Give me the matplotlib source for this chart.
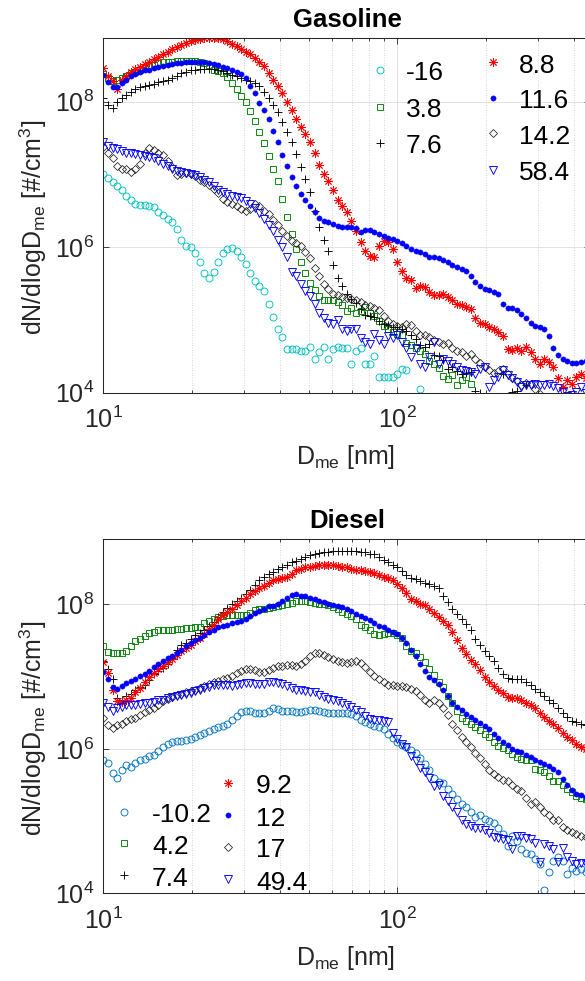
import numpy as np
import matplotlib
matplotlib.use('Agg')
import matplotlib.pyplot as plt
from matplotlib.ticker import FixedLocator, NullFormatter, NullLocator
from matplotlib.lines import Line2D

plt.rcParams['font.family'] = ['Liberation Sans', 'DejaVu Sans']
plt.rcParams['mathtext.fontset'] = 'custom'
plt.rcParams['mathtext.rm'] = 'Liberation Sans'
plt.rcParams['mathtext.it'] = 'Liberation Sans:italic'
plt.rcParams['mathtext.bf'] = 'Liberation Sans:bold'

nan = np.nan

# mobility-equivalent diameter channels [nm]
dme_nm = [10.00, 10.37, 10.75, 11.14, 11.55, 11.97, 12.41, 12.86, 13.34, 13.82,
          14.33, 14.86, 15.40, 15.96, 16.55, 17.15, 17.78, 18.43, 19.11, 19.81,
          20.54, 21.29, 22.07, 22.88, 23.71, 24.58, 25.48, 26.42, 27.38, 28.39,
          29.43, 30.50, 31.62, 32.78, 33.98, 35.22, 36.52, 37.85, 39.24, 40.68,
          42.17, 43.71, 45.32, 46.98, 48.70, 50.48, 52.33, 54.25, 56.23, 58.29,
          60.43, 62.65, 64.94, 67.32, 69.78, 72.34, 74.99, 77.74, 80.59, 83.54,
          86.60, 89.77, 93.06, 96.47, 100.00, 103.66, 107.46, 111.40, 115.48, 119.71,
          124.09, 128.64, 133.35, 138.24, 143.30, 148.55, 153.99, 159.64, 165.48, 171.54,
          177.83, 184.34, 191.09, 198.09, 205.35, 212.87, 220.67, 228.76, 237.14, 245.82,
          254.83, 264.17, 273.84, 283.87, 294.27, 305.05, 316.23, 327.80, 339.82, 352.24,
          365.17, 378.55, 392.42, 406.79, 421.70, 437.14]

# ---- Gasoline: log10(dN/dlogDme [#/cm^3]) ----
gas_labels = ['-16', '3.8', '7.6', '8.8', '11.6', '14.2', '58.4']

gas_m16 = [7.00, 6.95, 6.90, 6.84, 6.78, 6.71, 6.65, 6.60, 6.58, 6.58,
           6.57, 6.55, 6.49, 6.44, 6.39, 6.34, 6.25, 6.10, 6.01, 6.00,
           5.92, 5.80, 5.65, 5.58, 5.66, 5.79, 5.92, 5.97, 5.99, 5.95,
           5.86, 5.77, 5.64, 5.54, 5.47, 5.40, 5.22, 5.04, 4.88, 4.77,
           4.60, 4.60, 4.60, 4.58, 4.58, 4.63, 4.47, 4.56, 4.63, 4.47,
           4.60, 4.63, 4.62, 4.61, 4.40, 4.58, 4.61, 4.40, 4.40, 4.51,
           4.22, 4.21, 4.21, 4.22, 4.26, 4.32, 4.31, nan, nan, 4.05,
           nan, nan, nan, nan, nan, nan, nan, nan, nan, nan,
           nan, nan, nan, nan, nan, nan, nan, nan, nan, nan,
           nan, nan, nan, nan, nan, nan, nan, nan, nan, nan,
           nan, nan, nan, nan, nan, nan]

gas_3p8 = [8.38, 8.32, 8.29, 8.30, 8.33, 8.36, 8.39, 8.41, 8.44, 8.47,
           8.49, 8.51, 8.53, 8.54, 8.55, 8.55, 8.56, 8.56, 8.56, 8.56,
           8.56, 8.55, 8.53, 8.50, 8.44, 8.42, 8.39, 8.34, 8.26, 8.17,
           8.08, 7.99, 7.87, 7.73, 7.58, 7.43, 7.26, 7.08, 6.91, 6.66,
           6.41, 6.18, 5.97, 5.79, 5.65, 5.51, 5.41, 5.33, 5.28, 5.27,
           5.27, 5.25, 5.20, 5.12, 5.16, 5.09, 5.12, 5.18, 5.10, 5.05,
           4.98, 4.92, 4.88, 4.83, 4.81, 4.79, 4.69, 4.65, 4.62, 4.58,
           4.53, 4.44, 4.40, 4.34, 4.23, 4.19, 4.25, 4.10, 4.18, 4.21,
           4.12, nan, nan, nan, nan, nan, nan, nan, nan, nan,
           nan, nan, nan, nan, nan, nan, nan, nan, nan, nan,
           nan, nan, nan, nan, nan, nan]

gas_7p6 = [8.05, 7.96, 7.91, 8.00, 8.05, 8.09, 8.13, 8.17, 8.20, 8.22,
           8.23, 8.25, 8.27, 8.29, 8.30, 8.33, 8.36, 8.39, 8.41, 8.43,
           8.44, 8.45, 8.45, 8.45, 8.45, 8.44, 8.42, 8.40, 8.37, 8.35,
           8.32, 8.30, 8.29, 8.26, 8.21, 8.13, 8.05, 7.96, 7.86, 7.72,
           7.58, 7.44, 7.28, 7.10, 6.94, 6.76, 6.50, 6.28, 6.10, 5.95,
           5.75, 5.58, 5.46, 5.36, 5.29, 5.23, 5.15, 5.07, 5.05, 5.04,
           4.99, 4.95, 4.93, 4.91, 4.90, 4.88, 4.85, 4.80, 4.74, 4.66,
           4.63, 4.67, 4.52, 4.50, 4.45, 4.32, 4.35, 4.30, 4.26, 4.27,
           4.28, 4.02, 3.99, nan, nan, nan, nan, 4.26, nan, 4.01,
           4.03, nan, 4.10, nan, nan, nan, nan, nan, nan, nan,
           nan, nan, nan, nan, nan, nan]

gas_8p8 = [8.46, 8.36, 8.28, 8.18, 8.30, 8.36, 8.41, 8.45, 8.48, 8.52,
           8.55, 8.59, 8.62, 8.66, 8.69, 8.73, 8.75, 8.78, 8.81, 8.83,
           8.85, 8.86, 8.87, 8.87, 8.87, 8.87, 8.86, 8.83, 8.80, 8.77,
           8.73, 8.69, 8.65, 8.60, 8.55, 8.49, 8.40, 8.30, 8.22, 8.12,
           8.00, 7.88, 7.76, 7.65, 7.55, 7.44, 7.30, 7.13, 7.01, 6.91,
           6.78, 6.65, 6.56, 6.48, 6.36, 6.22, 6.07, 5.95, 5.88, 5.87,
           6.02, 6.08, 6.07, 5.97, 5.80, 5.67, 5.57, 5.55, 5.44, 5.47,
           5.45, 5.38, 5.34, 5.34, 5.35, 5.31, 5.27, 5.22, 5.20, 5.18,
           5.15, 5.02, 4.96, 4.94, 4.91, 4.88, 4.84, 4.78, 4.60, 4.59,
           4.61, 4.58, 4.63, 4.56, 4.46, 4.40, 4.46, 4.42, 4.35, 4.20,
           4.08, 4.18, 4.12, 4.22, 4.26, 4.20]

gas_11p6 = [8.37, 8.27, 8.20, 8.20, 8.26, 8.30, 8.35, 8.38, 8.41, 8.43,
            8.44, 8.46, 8.48, 8.49, 8.50, 8.52, 8.53, 8.53, 8.54, 8.54,
            8.54, 8.54, 8.54, 8.53, 8.52, 8.50, 8.48, 8.46, 8.44, 8.41,
            8.38, 8.33, 8.22, 8.12, 7.98, 7.88, 7.76, 7.60, 7.45, 7.27,
            7.11, 6.97, 6.84, 6.73, 6.65, 6.56, 6.48, 6.40, 6.36, 6.34,
            6.32, 6.29, 6.28, 6.28, 6.28, 6.27, 6.21, 6.23, 6.23, 6.21,
            6.18, 6.16, 6.13, 6.11, 6.09, 6.06, 6.02, 5.98, 5.95, 5.93,
            5.90, 5.87, 5.86, 5.85, 5.83, 5.80, 5.76, 5.73, 5.70, 5.67,
            5.61, 5.52, 5.47, 5.43, 5.41, 5.38, 5.35, 5.22, 5.17, 5.16,
            5.13, 5.08, 5.02, 4.96, 4.92, 4.90, 4.87, 4.78, 4.62, 4.52,
            4.47, 4.43, 4.41, 4.41, 4.42, 4.43]

gas_14p2 = [7.38, 7.30, 7.22, 7.11, 7.08, 7.07, 7.04, 7.08, 7.15, 7.30,
            7.36, 7.34, 7.30, 7.27, 7.19, 7.10, 6.99, 7.01, 7.02, 7.01,
            6.98, 6.93, 6.89, 6.85, 6.80, 6.74, 6.66, 6.62, 6.59, 6.56,
            6.53, 6.50, 6.52, 6.59, 6.56, 6.50, 6.45, 6.37, 6.30, 6.22,
            6.15, 6.09, 6.06, 6.01, 5.94, 5.85, 5.72, 5.60, 5.50, 5.43,
            5.36, 5.34, 5.31, 5.30, 5.29, 5.27, 5.25, 5.21, 5.19, 5.16,
            5.14, 5.05, 4.99, 4.95, 4.92, 4.90, 4.95, 4.93, 4.85, 4.80,
            4.79, 4.76, 4.73, 4.70, 4.67, 4.69, 4.62, 4.58, 4.56, 4.50,
            4.53, 4.46, 4.41, 4.36, 4.31, 4.27, 4.30, 4.33, 4.26, 4.20,
            4.16, 4.11, 4.13, 4.12, 4.05, 3.98, nan, nan, nan, nan,
            nan, nan, nan, nan, nan, nan]

gas_58p4 = [7.44, 7.39, 7.37, 7.35, 7.32, 7.30, 7.29, 7.28, 7.27, 7.26,
            7.24, 7.22, 7.18, 7.15, 7.12, 7.08, 7.05, 7.03, 7.02, 7.01,
            6.99, 6.96, 6.93, 6.89, 6.84, 6.79, 6.76, 6.73, 6.71, 6.69,
            6.67, 6.64, 6.60, 6.54, 6.47, 6.39, 6.31, 6.22, 6.10, 6.00,
            5.86, 5.66, 5.60, 5.50, 5.40, 5.33, 5.22, 5.09, 5.02, 4.96,
            4.95, 5.00, 4.88, 4.85, 4.88, 4.88, 4.75, 4.70, 4.67, 4.81,
            4.72, 4.67, 4.78, 4.75, 4.79, 4.70, 4.61, 4.49, 4.61, 4.40,
            4.35, 4.49, 4.70, 4.40, 4.47, 4.44, 4.40, 4.35, 4.31, 4.30,
            4.28, 4.26, 4.33, 4.35, 4.08, 4.17, 4.22, 4.31, 4.24, 4.20,
            4.15, 4.08, 4.10, 4.11, 4.12, 4.10, 4.10, 4.12, 4.09, 4.06,
            4.01, 3.95, 3.97, 4.01, 4.08, 4.00]

# ---- Diesel: log10(dN/dlogDme [#/cm^3]) ----
die_labels = ['-10.2', '4.2', '7.4', '9.2', '12', '17', '49.4']

die_m10p2 = [5.85, 5.80, 5.67, 5.60, 5.70, 5.77, 5.75, 5.80, 5.85, 5.86,
             5.90, 5.92, 5.97, 6.02, 6.06, 6.09, 6.11, 6.11, 6.12, 6.14,
             6.16, 6.19, 6.22, 6.25, 6.28, 6.30, 6.32, 6.35, 6.40, 6.46,
             6.51, 6.53, 6.52, 6.50, 6.50, 6.50, 6.52, 6.57, 6.55, 6.53,
             6.53, 6.52, 6.51, 6.51, 6.52, 6.54, 6.54, 6.53, 6.51, 6.50,
             6.50, 6.50, 6.50, 6.50, 6.48, 6.45, 6.40, 6.37, 6.35, 6.32,
             6.30, 6.27, 6.20, 6.15, 6.09, 6.05, 6.02, 5.99, 5.94, 5.87,
             5.79, 5.70, 5.60, 5.54, 5.52, 5.45, 5.38, 5.30, 5.24, 5.20,
             5.13, 5.06, 5.08, 5.03, 5.00, 4.98, 4.90, 4.82, 4.65, 4.80,
             4.72, 4.62, 4.56, 4.54, 4.48, 4.40, 4.05, 4.30, 4.45, 4.50,
             4.45, 4.27, 4.35, 4.31, 4.33, 4.30]

die_4p2 = [7.42, 7.34, 7.32, 7.32, 7.33, 7.36, 7.42, 7.49, 7.52, 7.56,
           7.60, 7.62, 7.64, 7.64, 7.64, 7.65, 7.66, 7.66, 7.67, 7.67,
           7.68, 7.69, 7.74, 7.77, 7.80, 7.83, 7.84, 7.85, 7.85, 7.85,
           7.85, 7.85, 7.88, 7.92, 7.94, 7.94, 7.95, 7.96, 7.97, 7.99,
           8.01, 8.02, 8.04, 8.05, 8.05, 8.03, 8.02, 8.01, 8.00, 7.99,
           7.96, 7.93, 7.90, 7.87, 7.84, 7.79, 7.72, 7.68, 7.65, 7.59,
           7.58, 7.59, 7.60, 7.60, 7.58, 7.53, 7.42, 7.35, 7.32, 7.27,
           7.20, 7.11, 7.02, 6.93, 6.85, 6.73, 6.63, 6.52, 6.42, 6.38,
           6.35, 6.30, 6.26, 6.21, 6.16, 6.10, 6.04, 6.01, 5.98, 5.93,
           5.88, 5.86, 5.85, 5.84, 5.72, 5.71, 5.68, 5.62, 5.56, 5.55,
           5.50, 5.45, 5.40, 5.34, 5.32, 5.30]

die_7p4 = [7.21, 7.10, 6.97, 6.70, 6.68, 6.73, 6.76, 6.82, 6.86, 6.89,
           6.95, 7.04, 7.08, 7.12, 7.18, 7.26, 7.37, 7.44, 7.46, 7.52,
           7.57, 7.60, 7.65, 7.70, 7.75, 7.83, 7.89, 7.95, 8.00, 8.04,
           8.09, 8.14, 8.20, 8.27, 8.33, 8.38, 8.42, 8.45, 8.49, 8.52,
           8.55, 8.58, 8.60, 8.63, 8.65, 8.68, 8.70, 8.71, 8.72, 8.73,
           8.74, 8.74, 8.74, 8.74, 8.74, 8.74, 8.73, 8.72, 8.70, 8.69,
           8.65, 8.61, 8.58, 8.55, 8.51, 8.46, 8.40, 8.37, 8.35, 8.32,
           8.30, 8.28, 8.26, 8.22, 8.12, 8.03, 7.94, 7.86, 7.80, 7.73,
           7.64, 7.52, 7.44, 7.36, 7.29, 7.21, 7.12, 7.03, 6.98, 6.97,
           6.97, 6.97, 6.93, 6.89, 6.83, 6.78, 6.73, 6.67, 6.63, 6.57,
           6.50, 6.44, 6.39, 6.37, 6.35, 6.33]

die_9p2 = [7.20, 7.05, 6.82, 6.66, 6.65, 6.67, 6.71, 6.78, 6.84, 6.93,
           7.00, 7.05, 7.10, 7.14, 7.20, 7.24, 7.30, 7.35, 7.40, 7.44,
           7.49, 7.54, 7.59, 7.66, 7.72, 7.80, 7.85, 7.89, 7.94, 7.99,
           8.04, 8.09, 8.14, 8.19, 8.22, 8.26, 8.30, 8.33, 8.35, 8.36,
           8.38, 8.42, 8.47, 8.49, 8.51, 8.52, 8.53, 8.54, 8.54, 8.54,
           8.54, 8.53, 8.52, 8.51, 8.49, 8.47, 8.47, 8.46, 8.45, 8.43,
           8.40, 8.38, 8.37, 8.33, 8.28, 8.23, 8.16, 8.08, 8.04, 8.01,
           7.99, 7.94, 7.88, 7.82, 7.77, 7.71, 7.62, 7.51, 7.40, 7.31,
           7.23, 7.17, 7.09, 7.00, 6.93, 6.87, 6.81, 6.77, 6.72, 6.70,
           6.70, 6.67, 6.64, 6.60, 6.56, 6.50, 6.44, 6.39, 6.34, 6.29,
           6.22, 6.17, 6.12, 6.07, 6.03, 6.00]

die_12 = [7.06, 6.96, 6.86, 6.83, 6.87, 6.91, 6.94, 6.97, 7.01, 7.04,
          7.08, 7.13, 7.18, 7.22, 7.26, 7.29, 7.33, 7.37, 7.42, 7.46,
          7.50, 7.54, 7.58, 7.62, 7.65, 7.68, 7.70, 7.72, 7.74, 7.75,
          7.77, 7.80, 7.84, 7.88, 7.91, 7.94, 7.97, 7.98, 8.01, 8.04,
          8.09, 8.13, 8.14, 8.12, 8.11, 8.09, 8.07, 8.05, 8.03, 8.01,
          7.99, 7.98, 7.96, 7.94, 7.91, 7.87, 7.84, 7.81, 7.78, 7.74,
          7.70, 7.68, 7.65, 7.61, 7.59, 7.54, 7.46, 7.37, 7.29, 7.18,
          7.08, 7.00, 6.95, 6.90, 6.82, 6.73, 6.64, 6.58, 6.54, 6.48,
          6.44, 6.40, 6.36, 6.32, 6.27, 6.20, 6.15, 6.10, 6.05, 6.00,
          5.97, 5.95, 5.92, 5.89, 5.85, 5.82, 5.79, 5.76, 5.72, 5.68,
          5.58, 5.50, 5.43, 5.38, 5.36, 5.33]

die_17 = [6.43, 6.33, 6.29, 6.33, 6.35, 6.38, 6.41, 6.43, 6.47, 6.51,
          6.54, 6.57, 6.61, 6.66, 6.69, 6.72, 6.74, 6.76, 6.78, 6.80,
          6.81, 6.84, 6.87, 6.90, 6.92, 6.94, 6.96, 6.98, 7.01, 7.05,
          7.08, 7.10, 7.10, 7.09, 7.06, 7.06, 7.09, 7.12, 7.14, 7.15,
          7.16, 7.16, 7.15, 7.17, 7.21, 7.28, 7.32, 7.33, 7.30, 7.27,
          7.24, 7.22, 7.20, 7.19, 7.20, 7.21, 7.19, 7.13, 7.07, 7.01,
          6.96, 6.92, 6.89, 6.88, 6.87, 6.87, 6.85, 6.83, 6.80, 6.74,
          6.67, 6.64, 6.68, 6.64, 6.57, 6.47, 6.35, 6.26, 6.17, 6.10,
          6.02, 5.94, 5.87, 5.79, 5.71, 5.65, 5.61, 5.57, 5.55, 5.50,
          5.45, 5.42, 5.32, 5.24, 5.26, 5.20, 5.13, 5.08, 5.01, 5.02,
          4.92, 4.87, 4.85, 4.82, 4.80, 4.78]

die_49p4 = [6.63, 6.58, 6.53, 6.56, 6.58, 6.60, 6.61, 6.61, 6.62, 6.63,
            6.63, 6.65, 6.67, 6.68, 6.70, 6.72, 6.73, 6.74, 6.76, 6.77,
            6.80, 6.82, 6.84, 6.86, 6.88, 6.89, 6.89, 6.88, 6.87, 6.89,
            6.90, 6.91, 6.91, 6.90, 6.90, 6.90, 6.93, 6.92, 6.91, 6.90,
            6.87, 6.84, 6.82, 6.81, 6.80, 6.79, 6.78, 6.75, 6.72, 6.69,
            6.67, 6.66, 6.64, 6.61, 6.58, 6.54, 6.51, 6.46, 6.41, 6.40,
            6.40, 6.39, 6.37, 6.22, 6.13, 6.07, 6.02, 5.90, 5.83, 5.74,
            5.68, 5.60, 5.49, 5.50, 5.35, 5.28, 5.20, 5.12, 5.02, 4.96,
            4.93, 4.91, 4.90, 4.87, 4.83, 4.78, 4.77, 4.75, 4.74, 4.61,
            4.79, 4.80, 4.77, 4.75, 4.70, 4.43, 4.68, 4.66, 4.61, 4.43,
            4.63, 4.50, 4.45, 4.40, 4.42, 4.40]

# ---- styles (MATLAB-like markers) ----
EW = 0.65
style_circle_c = dict(marker='o', mfc='none', mec='#00BFBF', ms=5.0, mew=EW)
style_circle_b = dict(marker='o', mfc='none', mec='#0072BD', ms=5.0, mew=EW)
style_square = dict(marker='s', mfc='none', mec='#008000', ms=4.4, mew=EW)
style_plus = dict(marker='+', color='k', ms=6.2, mew=EW)
style_star = dict(marker=(8, 2, 0), color='#FF0000', mec='#FF0000', ms=6.0, mew=EW)
style_dot = dict(marker='o', mfc='#0000FF', mec='#0000FF', ms=3.8, mew=0.3)
style_diam = dict(marker='D', mfc='none', mec='#202020', ms=4.2, mew=0.55)
style_tri = dict(marker='v', mfc='none', mec='#0000FF', ms=5.6, mew=EW)

gas_series = [gas_m16, gas_3p8, gas_7p6, gas_8p8, gas_11p6, gas_14p2, gas_58p4]
die_series = [die_m10p2, die_4p2, die_7p4, die_9p2, die_12, die_17, die_49p4]
gas_styles = [style_circle_c, style_square, style_plus, style_star, style_dot, style_diam, style_tri]
die_styles = [style_circle_b, style_square, style_plus, style_star, style_dot, style_diam, style_tri]

W, H = 585, 981
fig = plt.figure(figsize=(W / 100, H / 100), dpi=100)
fig.patch.set_facecolor('white')

AX_COLOR = '#262626'
x_left_px, x_right_px = 103.3, 590.0
xmax = 10 ** (1 + (x_right_px - x_left_px) / 294.0)


def fx(px):
    return px / W


def fy(py):
    return 1 - py / H


def make_axes(top_px, bot_px, ytop_log):
    ax = fig.add_axes([fx(x_left_px), fy(bot_px), (x_right_px - x_left_px) / W, (bot_px - top_px) / H])
    ax.set_xscale('log')
    ax.set_yscale('log')
    ax.set_xlim(10, xmax)
    ax.set_ylim(1e4, 10 ** ytop_log)
    ax.xaxis.set_major_locator(FixedLocator([10, 100]))
    ax.xaxis.set_minor_locator(FixedLocator([20, 30, 40, 50, 60, 70, 80, 90, 200, 300, 400]))
    ax.xaxis.set_minor_formatter(NullFormatter())
    ax.yaxis.set_major_locator(FixedLocator([1e4, 1e6, 1e8]))
    ax.yaxis.set_minor_locator(NullLocator())
    ax.tick_params(which='both', direction='in', top=True, right=True, color=AX_COLOR,
                   labelcolor=AX_COLOR, labelsize=18, width=0.6)
    ax.tick_params(which='major', length=4.5)
    ax.tick_params(which='minor', length=2.5)
    ax.tick_params(axis='x', which='major', pad=10)
    ax.tick_params(axis='y', which='major', pad=6.5)
    for sp in ax.spines.values():
        sp.set_color(AX_COLOR)
        sp.set_linewidth(0.75)
    ax.grid(True, which='major', axis='both', color=AX_COLOR, alpha=0.15, lw=0.6, ls='-')
    ax.xaxis.grid(True, which='minor', color=AX_COLOR, alpha=0.25, lw=0.6, ls=(0, (1, 2)))
    ax.set_axisbelow(True)
    return ax


ax1 = make_axes(37.7, 392.7, 8.88)
ax2 = make_axes(539.3, 893.3, 8.90)

d = np.array(dme_nm)
for ax, series, styles in [(ax1, gas_series, gas_styles), (ax2, die_series, die_styles)]:
    for vals, st in zip(series, styles):
        ax.plot(d, 10 ** np.array(vals, dtype=float), ls='none', **st)


# ---- legends (two columns each, placed like the original) ----
def legend_column(entries, x_marker, x_text, ys):
    for (label, st), y in zip(entries, ys):
        fig.add_artist(Line2D([fx(x_marker)], [fy(y)], ls='none', transform=fig.transFigure, **st))
        fig.text(fx(x_text), fy(y + 10.5), label, fontsize=19, color='k', ha='left', va='baseline')


g = list(zip(gas_labels, gas_styles))
legend_column(g[:3], 380, 406, [70, 106.7, 142.7])
legend_column(g[3:], 493.3, 519, [62.3, 97.7, 133.3, 170])
dl = list(zip(die_labels, die_styles))
legend_column(dl[:3], 124.3, 152, [811.7, 843.3, 875])
legend_column(dl[3:], 228.3, 256, [782.7, 815, 846.7, 879])

# ---- titles and axis labels ----
fig.text(fx(347), fy(27), 'Gasoline', fontsize=18.5, fontweight='bold', ha='center', va='baseline', color='k')
fig.text(fx(347), fy(528), 'Diesel', fontsize=18.5, fontweight='bold', ha='center', va='baseline', color='k')
xlab = r'D$_{\mathrm{me}}$ [nm]'
ylab = r'dN/dlogD$_{\mathrm{me}}$ [#/cm$^{\mathrm{3}}$]'
fig.text(fx(346), fy(464), xlab, fontsize=18, ha='center', va='baseline', color=AX_COLOR)
fig.text(fx(346), fy(965), xlab, fontsize=18, ha='center', va='baseline', color=AX_COLOR)
fig.text(fx(33), fy(227), ylab, fontsize=18, rotation=90, ha='center', va='center', color=AX_COLOR)
fig.text(fx(33), fy(728), ylab, fontsize=18, rotation=90, ha='center', va='center', color=AX_COLOR)

fig.savefig('out.png', dpi=100)
